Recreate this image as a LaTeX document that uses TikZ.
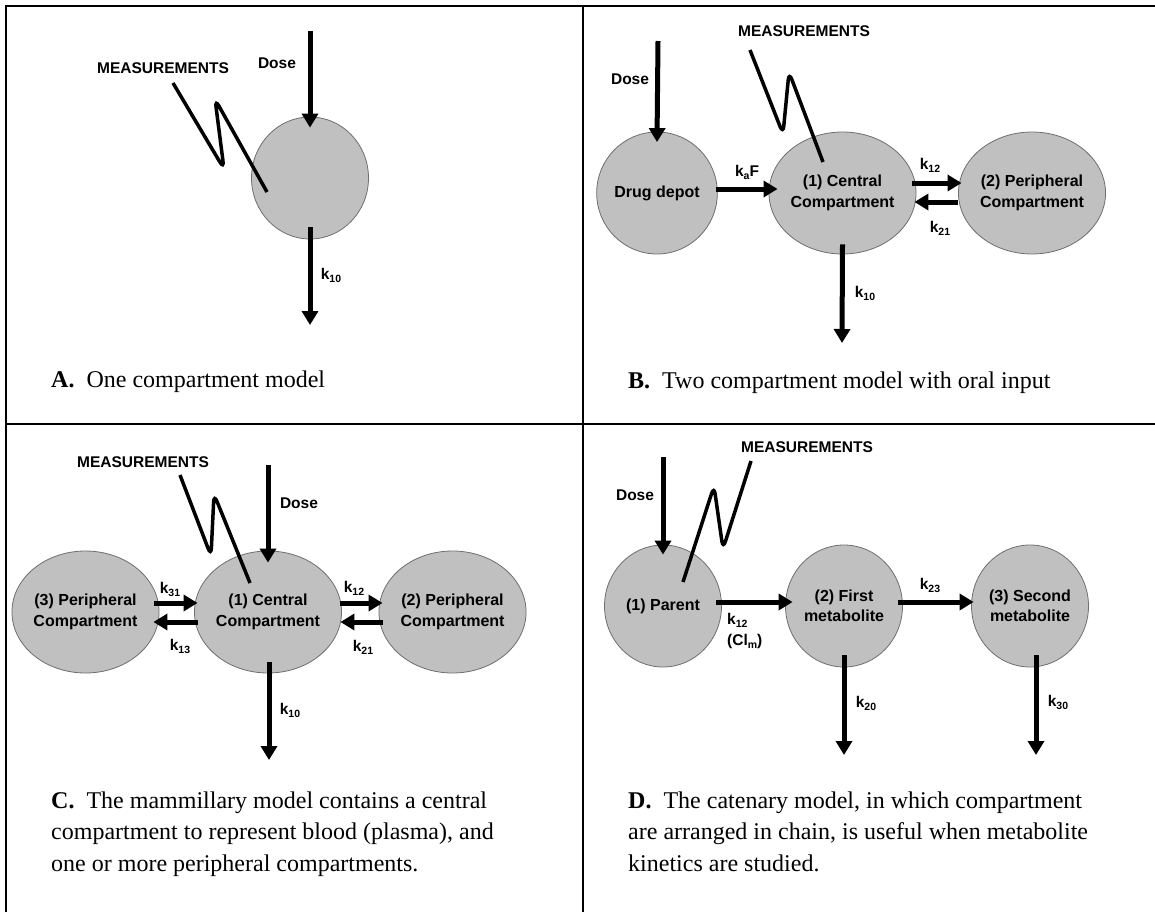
\documentclass[tikz,border=0pt]{standalone}
\usepackage{fontspec}
\setmainfont{Liberation Serif}
\newfontfamily\lab{Liberation Sans}
\usetikzlibrary{arrows.meta,shapes.geometric}
\definecolor{compfill}{HTML}{C0C0C0}
\definecolor{compline}{HTML}{6E6E6E}
\newcommand{\kk}[1]{k\raisebox{-3pt}{\fontsize{10.5}{10}\selectfont #1}}
\newcommand{\lsub}[1]{\raisebox{-3pt}{\fontsize{10.5}{10}\selectfont #1}}
\begin{document}
\begin{tikzpicture}[x=1pt,y=1pt,
  comp/.style={ellipse, draw=compline, line width=0.8pt, fill=compfill,
    minimum width=117pt, minimum height=122pt, inner sep=0pt, align=center,
    font=\lab\bfseries\fontsize{16}{20.5}\selectfont},
  flow/.style={line width=5pt, -{Triangle[length=14pt,width=16pt]}},
  zig/.style={line width=3.5pt, rounded corners=8pt},
  lbl/.style={font=\lab\bfseries\fontsize{15.5}{18}\selectfont, inner sep=0pt},
  captext/.style={font=\fontsize{24}{31.5}\selectfont, inner sep=0pt, anchor=base west, align=left},
  tblline/.style={line width=2.3pt}]
\useasboundingbox (0,0) rectangle (1155,-912);
% frame
\coordinate (fTL) at (6,-6);
\coordinate (fTR) at (1155,-6);
\coordinate (fBL) at (6,-912);
\coordinate (fMT) at (583,-6);
\coordinate (fMB) at (583,-912);
\coordinate (fML) at (6,-424);
\coordinate (fMR) at (1155,-424);
\draw[tblline] (fBL) -- (fTL) -- (fTR);
\draw[tblline] (fMT) -- (fMB);
\draw[tblline] (fML) -- (fMR);

% ---------- Panel A ----------
\node[comp] (A1) at (310,-178) {};
\coordinate (Adose) at (310,-31);
\coordinate (Aout) at (310,-325);
\draw[flow] (Adose) -- ([yshift=-11pt]A1.north);
\draw[flow] ([yshift=12pt]A1.south) -- (Aout);
\node[lbl] (Ameas) at (163,-68) {MEASUREMENTS};
\node[lbl] (AdoseL) at (277,-63) {Dose};
\node[lbl] (Ak10) at (331,-275) {\kk{10}};
\coordinate (Az0) at (173,-83);
\coordinate (Az1) at (224,-169);
\coordinate (Az2) at (215,-99);
\draw[zig] (Az0) -- (Az1) -- (Az2) -- ([xshift=-43pt,yshift=-14pt]A1.center);
\node[captext] (Acap) at (51,-387) {\textbf{A.}\ \ One compartment model};

% ---------- Panel B ----------
\node[comp] (B0) at (657,-193) {Drug depot};
\node[comp] (B1) at (842.5,-193) {(1) Central\\Compartment};
\node[comp] (B2) at (1032,-193) {(2) Peripheral\\Compartment};
\coordinate (Bdose) at (658,-41);
\coordinate (Bout) at (842,-343);
\draw[flow] (Bdose) -- ([yshift=-10.5pt]B0.north);
\draw[flow] ([xshift=-2pt,yshift=4pt]B0.east) -- ([xshift=9pt,yshift=4pt]B1.west);
\draw[flow] ([xshift=-4pt,yshift=10pt]B1.east) -- ([xshift=3.5pt,yshift=10pt]B2.west);
\draw[flow] ([xshift=0pt,yshift=-9pt]B2.west) -- ([xshift=-2pt,yshift=-9pt]B1.east);
\draw[flow] ([yshift=10pt]B1.south) -- (Bout);
\node[lbl] (BdoseL) at (630,-79) {Dose};
\node[lbl] (Bmeas) at (804,-31) {MEASUREMENTS};
\node[lbl] (BkaF) at (747,-172) {\kk{a}F};
\node[lbl] (Bk12) at (930,-165) {\kk{12}};
\node[lbl] (Bk21) at (940,-228) {\kk{21}};
\node[lbl] (Bk10) at (865,-293) {\kk{10}};
\coordinate (Bz0) at (750,-50);
\coordinate (Bz1) at (783,-134);
\coordinate (Bz2) at (789,-72);
\draw[zig] (Bz0) -- (Bz1) -- (Bz2) -- ([xshift=-19.5pt,yshift=31pt]B1.center);
\node[captext] (Bcap) at (628,-388) {\textbf{B.}\ \ Two compartment model with oral input};

% ---------- Panel C ----------
\node[comp] (C3) at (85.5,-612) {(3) Peripheral\\Compartment};
\node[comp] (C1) at (268,-612) {(1) Central\\Compartment};
\node[comp] (C2) at (452.5,-612) {(2) Peripheral\\Compartment};
\coordinate (Cdose) at (268,-465);
\coordinate (Cout) at (269,-760);
\draw[flow] (Cdose) -- ([yshift=-12pt]C1.north);
\draw[flow] ([xshift=-5pt,yshift=9pt]C3.east) -- ([xshift=3.5pt,yshift=9pt]C1.west);
\draw[flow] ([xshift=3.5pt,yshift=-10pt]C1.west) -- ([xshift=-6pt,yshift=-10pt]C3.east);
\draw[flow] ([xshift=-1.5pt,yshift=9pt]C1.east) -- ([xshift=4pt,yshift=9pt]C2.west);
\draw[flow] ([xshift=4pt,yshift=-10pt]C2.west) -- ([xshift=-1.5pt,yshift=-10pt]C1.east);
\draw[flow] ([xshift=1pt,yshift=11pt]C1.south) -- (Cout);
\node[lbl] (Cmeas) at (143,-462) {MEASUREMENTS};
\node[lbl] (CdoseL) at (299,-503) {Dose};
\node[lbl] (Ck31) at (170,-589) {\kk{31}};
\node[lbl] (Ck13) at (180,-646) {\kk{13}};
\node[lbl] (Ck12) at (354,-588) {\kk{12}};
\node[lbl] (Ck21) at (363,-647) {\kk{21}};
\node[lbl] (Ck10) at (290,-710) {\kk{10}};
\coordinate (Cz0) at (180,-475);
\coordinate (Cz1) at (211,-556);
\coordinate (Cz2) at (214,-494);
\draw[zig] (Cz0) -- (Cz1) -- (Cz2) -- ([xshift=-18pt,yshift=29pt]C1.center);
\node[captext] (Ccap) at (51,-871) {\textbf{C.}\ \ The mammillary model contains a central\\compartment to represent blood (plasma), and\\one or more peripheral compartments.};

% ---------- Panel D ----------
\node[comp] (D1) at (663,-606) {(1) Parent};
\node[comp] (D2) at (844,-606) {(2) First\\metabolite};
\node[comp] (D3) at (1030,-606) {(3) Second\\metabolite};
\coordinate (Ddose) at (663,-457);
\coordinate (Dout2) at (844,-755);
\coordinate (Dout3) at (1036,-755);
\draw[flow] (Ddose) -- ([yshift=-10pt]D1.north);
\draw[flow] ([xshift=-5.5pt,yshift=4pt]D1.east) -- ([xshift=7.5pt,yshift=4pt]D2.west);
\draw[flow] ([xshift=-4.5pt,yshift=4pt]D2.east) -- ([xshift=2.5pt,yshift=4pt]D3.west);
\draw[flow] ([yshift=12pt]D2.south) -- (Dout2);
\draw[flow] ([xshift=6pt,yshift=12pt]D3.south) -- (Dout3);
\node[lbl] (DdoseL) at (635,-495) {Dose};
\node[lbl] (Dmeas) at (807,-447) {MEASUREMENTS};
\node[lbl, anchor=west] (Dk12) at (727,-620) {\kk{12}};
\node[lbl, anchor=west] (DCl) at (727,-641) {(Cl\lsub{m})};
\node[lbl] (Dk23) at (930,-585) {\kk{23}};
\node[lbl] (Dk20) at (866,-703) {\kk{20}};
\node[lbl] (Dk30) at (1058,-702) {\kk{30}};
\coordinate (Dz0) at (751,-461);
\coordinate (Dz1) at (723,-549);
\coordinate (Dz2) at (714,-486);
\draw[zig] (Dz0) -- (Dz1) -- (Dz2) -- ([xshift=20pt,yshift=24pt]D1.center);
\node[captext] (Dcap) at (628,-871) {\textbf{D.}\ \ The catenary model, in which compartment\\are arranged in chain, is useful when metabolite\\kinetics are studied.};
\end{tikzpicture}
\end{document}
